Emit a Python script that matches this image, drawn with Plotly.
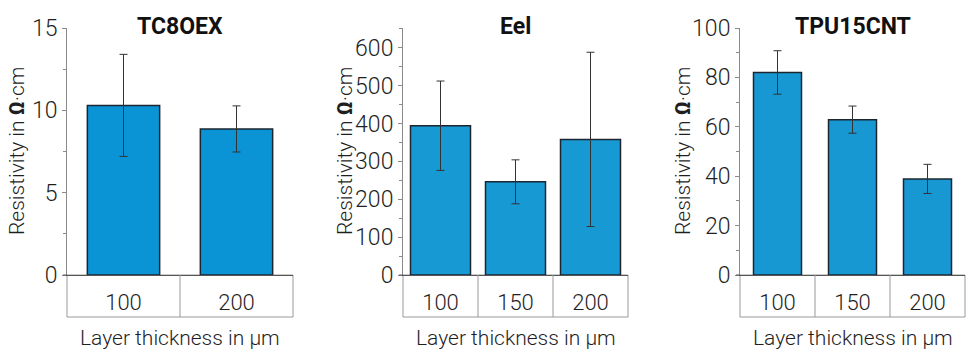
import plotly.graph_objects as go

W, H = 968, 352

titles = ["TC8OEX", "Eel", "TPU15CNT"]
cats_tc8 = ["100", "200"]
vals_tc8 = [10.3, 8.87]
errs_tc8 = [3.1, 1.4]

cats_eel = ["100", "150", "200"]
vals_eel = [394, 246, 358]
errs_eel = [118, 58, 230]

cats_tpu = ["100", "150", "200"]
vals_tpu = [82.0, 62.9, 38.9]
errs_tpu = [8.8, 5.5, 5.9]

y_ranges = [[0, 15], [0, 652], [0, 100]]
y_dticks = [5, 100, 20]
y_minor = [2.5, 50, 10]

# layout in pixels
x_doms_px = [(67, 293), (403, 628), (740, 965)]
bar_widths = [0.64, 0.8, 0.64]
bar_colors = ["#0a94d6", "#1799d3", "#1798d2"]
y_top_px, y_bot_px = 28, 275

series = [(cats_tc8, vals_tc8, errs_tc8), (cats_eel, vals_eel, errs_eel), (cats_tpu, vals_tpu, errs_tpu)]

fig = go.Figure()
FONT = "Roboto"
TXT = "#1f1f1f"
layout = dict(
    width=W, height=H, margin=dict(l=0, r=0, t=0, b=0, autoexpand=False),
    paper_bgcolor="white", plot_bgcolor="white", showlegend=False,
    font=dict(family=FONT, color=TXT),
)
shapes, annotations = [], []
ydom = [1 - y_bot_px / H, 1 - y_top_px / H]
box_frac = 42 / (y_bot_px - y_top_px)

for i, (cats, vals, errs) in enumerate(series):
    n = i + 1
    xa = "x" if n == 1 else f"x{n}"
    ya = "y" if n == 1 else f"y{n}"
    fig.add_trace(go.Bar(
        x=cats, y=vals, xaxis=xa, yaxis=ya, width=bar_widths[i],
        marker=dict(color=bar_colors[i], line=dict(color="#1c2630", width=1.5)),
        error_y=dict(type="data", array=errs, visible=True, color="#333", thickness=1, width=4),
    ))
    x0, x1 = x_doms_px[i]
    layout[f"xaxis{'' if n == 1 else n}"] = dict(
        domain=[x0 / W, x1 / W], type="category", range=[-0.5, len(cats) - 0.5],
        showline=True, linecolor="#555", linewidth=1, ticks="", showgrid=False,
        tickfont=dict(size=22, color=TXT, family=FONT, weight=300), ticklabelstandoff=8,
        anchor=ya, fixedrange=True, automargin=False,
    )
    layout[f"yaxis{'' if n == 1 else n}"] = dict(
        domain=ydom, range=y_ranges[i], dtick=y_dticks[i], tick0=0,
        showline=True, linecolor="#8a8a8a", linewidth=1, ticks="outside", ticklen=4,
        tickcolor="#8a8a8a", showgrid=False, zeroline=False,
        minor=dict(dtick=y_minor[i], ticks="outside", ticklen=3, tickcolor="#8a8a8a", showgrid=False),
        tickfont=dict(size=23, color=TXT, family=FONT, weight=300), anchor=xa, fixedrange=True,
        automargin=False,
    )
    xr = f"{xa} domain"
    yr = f"{ya} domain"
    shapes.append(dict(type="rect", xref=xr, yref=yr, x0=0, x1=1, y0=-box_frac, y1=0,
                       line=dict(color="#999", width=1), layer="below"))
    for k in range(len(cats) - 1):
        shapes.append(dict(type="line", xref=xa, yref=yr, x0=k + 0.5, x1=k + 0.5, y0=-box_frac, y1=0,
                           line=dict(color="#999", width=1)))
    # short extension of the zero line left of the axis
    shapes.append(dict(type="line", xref=xr, yref=yr, x0=-4 / (x1 - x0), x1=0, y0=0, y1=0,
                       line=dict(color="#555", width=1)))
    cx = (x0 + x1) / 2 / W
    annotations.append(dict(text=f"<b>{titles[i]}</b>", x=cx, y=1 - 27 / H, xref="paper", yref="paper",
                            xanchor="center", yanchor="middle", showarrow=False,
                            font=dict(size=23, color="#111", family=FONT)))
    annotations.append(dict(text="Layer thickness in µm", x=cx, y=1 - 338 / H, xref="paper", yref="paper",
                            xanchor="center", yanchor="middle", showarrow=False,
                            font=dict(size=21, color=TXT, family=FONT, weight=300)))
    annotations.append(dict(text="Resistivity in <b>Ω</b>·cm", x=(x0 - [50, 58, 57][i]) / W, y=1 - 151 / H,
                            xref="paper", yref="paper", xanchor="center", yanchor="middle",
                            showarrow=False, textangle=-90,
                            font=dict(size=21, color=TXT, family=FONT, weight=300)))

layout["shapes"] = shapes
layout["annotations"] = annotations
fig.update_layout(**layout)
fig.write_html("out.html")
